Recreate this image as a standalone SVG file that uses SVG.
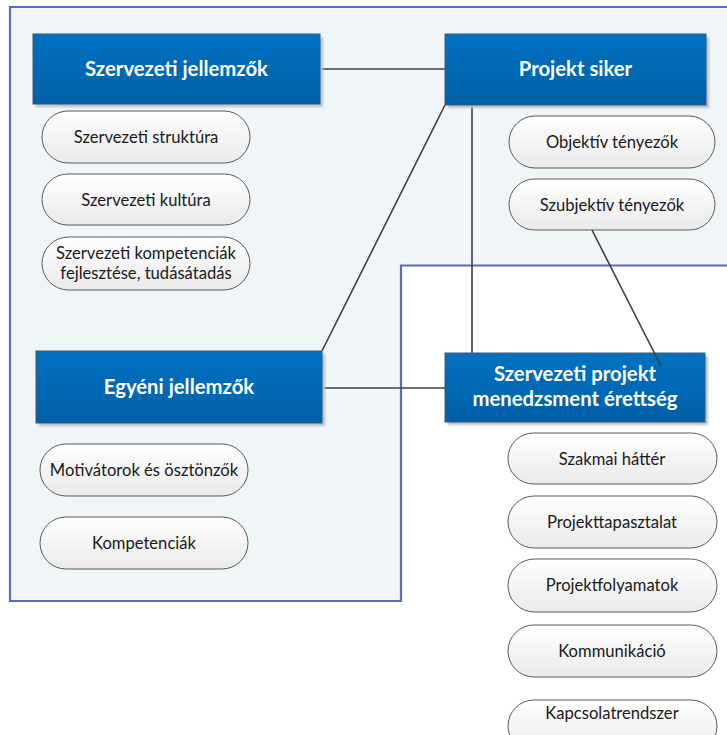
<svg xmlns="http://www.w3.org/2000/svg" width="727" height="735" viewBox="0 0 727 735">
  <defs>
    <linearGradient id="hdr" x1="0" y1="0" x2="0" y2="1">
      <stop offset="0" stop-color="#0072c3"/>
      <stop offset="1" stop-color="#0060a6"/>
    </linearGradient>
    <linearGradient id="pill" x1="0" y1="0" x2="0" y2="1">
      <stop offset="0" stop-color="#ffffff"/>
      <stop offset="1" stop-color="#eaeaea"/>
    </linearGradient>
    <filter id="soft" x="-10%" y="-10%" width="130%" height="140%">
      <feGaussianBlur stdDeviation="1"/>
    </filter>
  </defs>
  <style>
    .shadow { fill: #b9c0c8; filter: url(#soft); }
    .hdr { fill: url(#hdr); stroke: #3d5a78; stroke-width: 1; }
    .hdr-t { font-family: Lato, "Open Sans", "Liberation Sans", sans-serif; font-weight: bold; font-size: 20.3px; fill: #ffffff; text-anchor: middle; }
    .pill { fill: url(#pill); stroke: #5a5a5a; stroke-width: 1; }
    .pill-t { font-family: Lato, "Open Sans", "Liberation Sans", sans-serif; font-size: 16.6px; fill: #1a1a1a; text-anchor: middle; }
    .conn line { stroke: #3f3f3f; stroke-width: 1.6; fill: none; }
  </style>

  <rect width="727" height="735" fill="#ffffff"/>

  <!-- background region -->
  <path d="M10,7 H730 V265.5 H401 V601 H10 Z" fill="#f0f5f8" stroke="#5b6bbd" stroke-width="2.2"/>

  <!-- connectors (under) -->
  <g id="connectors" class="conn">
    <line x1="320" y1="69" x2="445" y2="69"/>
    <line x1="445" y1="105" x2="322" y2="351"/>
    <line x1="472" y1="105" x2="472" y2="353"/>
    <line x1="322" y1="388" x2="445" y2="388"/>
  </g>

  <!-- header nodes -->
  <g id="szervezeti-jellemzok">
    <rect class="shadow" x="36" y="37" width="287" height="70"/>
    <rect class="hdr" x="33" y="34" width="287" height="70"/>
    <text class="hdr-t" x="176.5" y="76">Szervezeti jellemzők</text>
  </g>
  <g id="projekt-siker">
    <rect class="shadow" x="448" y="37" width="261" height="71"/>
    <rect class="hdr" x="445" y="34" width="261" height="71"/>
    <text class="hdr-t" x="575.5" y="76">Projekt siker</text>
  </g>
  <g id="egyeni-jellemzok">
    <rect class="shadow" x="39" y="354" width="286" height="72"/>
    <rect class="hdr" x="36" y="351" width="286" height="72"/>
    <text class="hdr-t" x="179" y="394">Egyéni jellemzők</text>
  </g>
  <g id="szervezeti-pm-erettseg">
    <rect class="shadow" x="448" y="356" width="260" height="69"/>
    <rect class="hdr" x="445" y="353" width="260" height="69"/>
    <text class="hdr-t" x="575" y="381">Szervezeti projekt</text>
    <text class="hdr-t" x="575" y="406">menedzsment érettség</text>
  </g>

  <!-- left column items -->
  <g id="szervezeti-struktura">
    <rect class="pill" x="42" y="111" width="208" height="52" rx="26"/>
    <text class="pill-t" x="146" y="142.5">Szervezeti struktúra</text>
  </g>
  <g id="szervezeti-kultura">
    <rect class="pill" x="42" y="174" width="208" height="51" rx="25.5"/>
    <text class="pill-t" x="146" y="205.5">Szervezeti kultúra</text>
  </g>
  <g id="kompetencia-fejlesztes">
    <rect class="pill" x="42" y="237" width="208" height="53" rx="26.5"/>
    <text class="pill-t" x="146" y="259">Szervezeti kompetenciák</text>
    <text class="pill-t" x="146" y="279">fejlesztése, tudásátadás</text>
  </g>
  <g id="motivatorok">
    <rect class="pill" x="40" y="444" width="208" height="52" rx="26"/>
    <text class="pill-t" x="144" y="475.5">Motivátorok és ösztönzők</text>
  </g>
  <g id="kompetenciak">
    <rect class="pill" x="40" y="517" width="208" height="52" rx="26"/>
    <text class="pill-t" x="144" y="548.5">Kompetenciák</text>
  </g>

  <!-- right column items -->
  <g id="objektiv">
    <rect class="pill" x="509" y="116" width="206" height="52" rx="26"/>
    <text class="pill-t" x="612" y="147.5">Objektív tényezők</text>
  </g>
  <g id="szubjektiv">
    <rect class="pill" x="509" y="179" width="206" height="51" rx="25.5"/>
    <text class="pill-t" x="612" y="210.5">Szubjektív tényezők</text>
  </g>
  <g id="szakmai-hatter">
    <rect class="pill" x="508" y="433" width="209" height="51" rx="25.5"/>
    <text class="pill-t" x="612" y="464.5">Szakmai háttér</text>
  </g>
  <g id="projekttapasztalat">
    <rect class="pill" x="508" y="496" width="209" height="52" rx="26"/>
    <text class="pill-t" x="612" y="527.5">Projekttapasztalat</text>
  </g>
  <g id="projektfolyamatok">
    <rect class="pill" x="508" y="559" width="209" height="53" rx="26.5"/>
    <text class="pill-t" x="612" y="591">Projektfolyamatok</text>
  </g>
  <g id="kommunikacio">
    <rect class="pill" x="508" y="625" width="209" height="52" rx="26"/>
    <text class="pill-t" x="612" y="656.5">Kommunikáció</text>
  </g>
  <g id="kapcsolatrendszer">
    <rect class="pill" x="508" y="700" width="209" height="52" rx="26"/>
    <text class="pill-t" x="612" y="719">Kapcsolatrendszer</text>
  </g>

  <!-- connector drawn over the target header -->
  <g id="connectors-top" class="conn">
    <line x1="592" y1="230" x2="661" y2="366"/>
  </g>
</svg>
